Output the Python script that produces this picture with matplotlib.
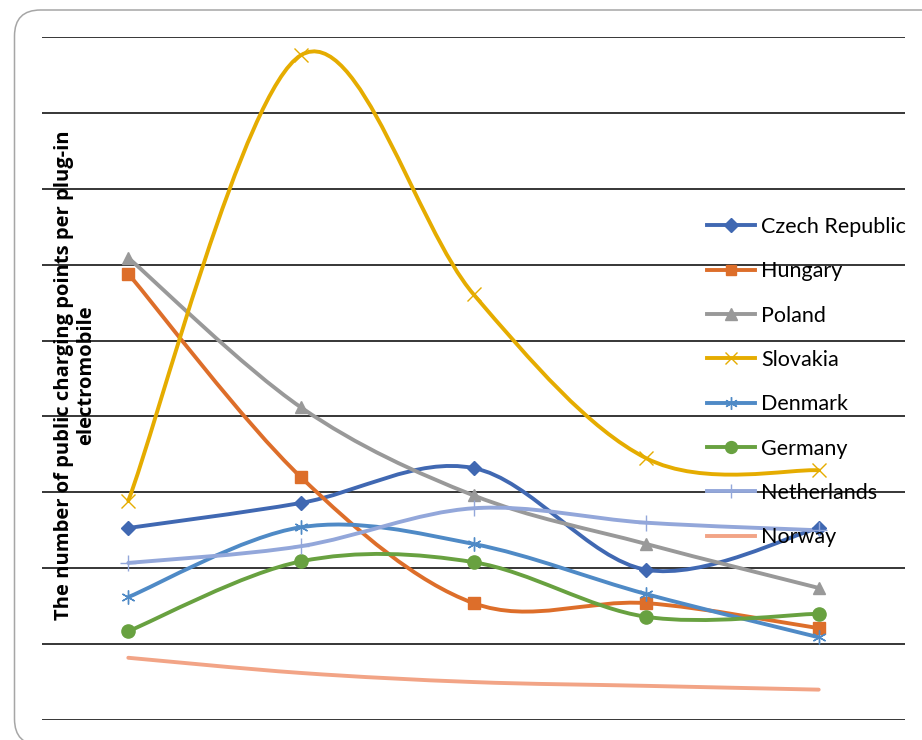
import numpy as np
import matplotlib
matplotlib.use("Agg")
import matplotlib.pyplot as plt
from matplotlib.path import Path
from matplotlib.patches import PathPatch, FancyBboxPatch

# five periods (no labels visible on the chart)
periods = [0, 1, 2, 3, 4]

countries = ["Czech Republic", "Hungary", "Poland", "Slovakia",
             "Denmark", "Germany", "Netherlands", "Norway"]

czech = [2.53, 2.86, 3.32, 1.98, 2.53]
hungary = [5.88, 3.20, 1.54, 1.54, 1.21]
poland = [6.09, 4.12, 2.96, 2.32, 1.74]
slovakia = [2.89, 8.76, 5.61, 3.45, 3.29]
denmark = [1.62, 2.54, 2.32, 1.66, 1.09]
germany = [1.17, 2.09, 2.08, 1.36, 1.40]
netherlands = [2.07, 2.29, 2.79, 2.60, 2.50]
norway = [0.82, 0.62, 0.50, 0.45, 0.40]

values = [czech, hungary, poland, slovakia, denmark, germany, netherlands, norway]

colors = ["#4068B2", "#DD6E2A", "#999999", "#E5AC00",
          "#4F8AC6", "#68A140", "#93A7DA", "#F2A486"]
markers = ["D", "s", "^", "x", (6, 2, 0), "o", "+", None]
msizes = [7.5, 8, 9, 10, 10, 9.5, 11, 0]


def smooth_path(xs, ys):
    # Excel-like smoothed line: cubic bezier through each point
    pts = np.column_stack([xs, ys]).astype(float)
    n = len(pts)
    verts = [pts[0]]
    codes = [Path.MOVETO]
    for i in range(n - 1):
        p0 = pts[i - 1] if i > 0 else pts[i]
        p1 = pts[i]
        p2 = pts[i + 1]
        p3 = pts[i + 2] if i + 2 < n else pts[i + 1]
        c1 = p1 + (p2 - p0) / 6.0
        c2 = p2 - (p3 - p1) / 6.0
        verts += [c1, c2, p2]
        codes += [Path.CURVE4] * 3
    return Path(verts, codes)


fig = plt.figure(figsize=(9.22, 7.4), dpi=100)

# rounded chart border
border = FancyBboxPatch((0.145, -0.05), 10, 7.35, boxstyle="round,pad=0,rounding_size=0.26",
                        transform=fig.dpi_scale_trans, fill=False, edgecolor="#a6a6a6",
                        linewidth=1.1, clip_on=False)
fig.patches.append(border)

ax = fig.add_axes([42 / 922, 1 - 720 / 740, 863 / 922, 683 / 740])
ax.set_xlim(-0.5, 4.5)
ax.set_ylim(0, 9)
ax.set_yticks(np.arange(0, 10, 1))
ax.set_xticks([])
ax.tick_params(axis="y", length=0, labelleft=False)
ax.grid(axis="y", color="black", linewidth=1.1)
ax.set_axisbelow(True)
for s in ax.spines.values():
    s.set_visible(False)

lw = 2.8
for name, ys, c, m, ms in zip(countries, values, colors, markers, msizes):
    ax.add_patch(PathPatch(smooth_path(periods, ys), facecolor="none", edgecolor=c,
                           linewidth=lw, capstyle="round", zorder=3))
    if m is not None:
        ax.plot(periods, ys, linestyle="none", marker=m, markersize=ms, color=c,
                markeredgewidth=1.0, zorder=4)
    # legend proxy
    ax.plot([], [], color=c, linewidth=lw, marker=m, markersize=ms * 0.9,
            markeredgewidth=1.0, label=name)

leg = ax.legend(loc="upper left", bbox_to_anchor=(707 / 922, 1 - 217 / 740),
                bbox_transform=fig.transFigure, frameon=False,
                prop={"family": "Lato", "size": 15.5}, labelspacing=1.13,
                handlelength=2.25, handletextpad=0.25, borderpad=0, borderaxespad=0)
leg.set_zorder(5)

fig.text(75 / 922, 1 - 375 / 740,
         "The number of public charging points per plug-in\nelectromobile",
         rotation=90, ha="center", va="center", multialignment="center",
         family="Open Sans", weight="bold", fontsize=14.5, linespacing=1.1)

fig.savefig("out.png", dpi=100)
